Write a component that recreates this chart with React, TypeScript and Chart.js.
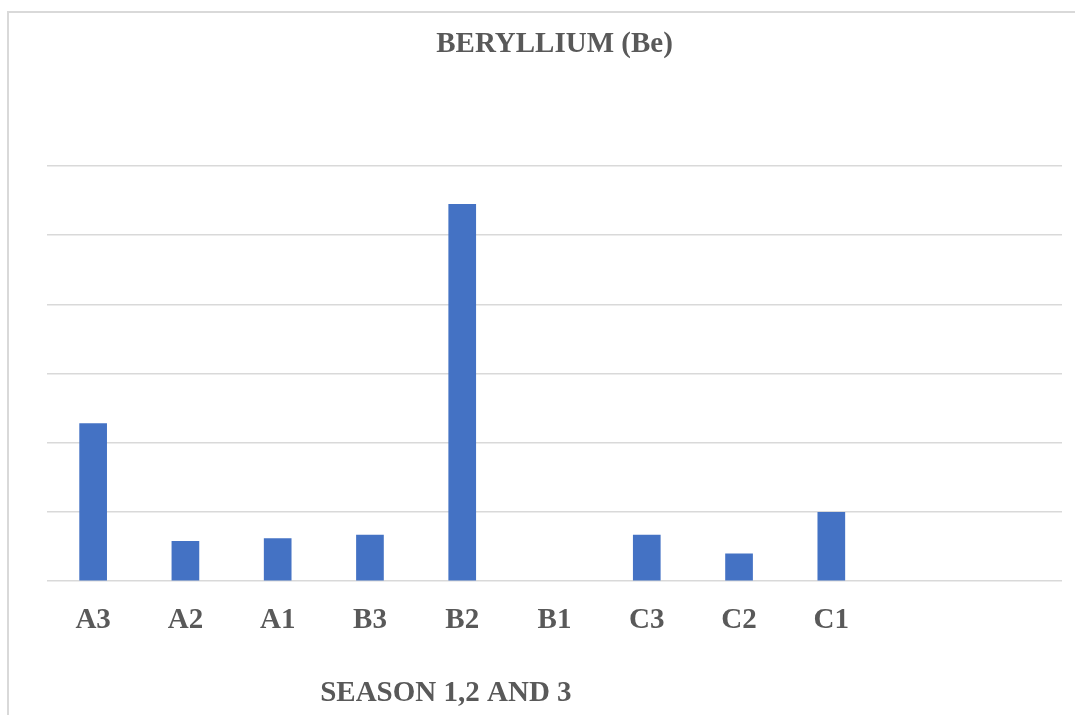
import React, { useEffect, useRef } from "react";
import { Chart, registerables } from "chart.js";

Chart.register(...registerables);

const chartTitle = "BERYLLIUM (Be)";
const axisTitle = "SEASON 1,2 AND 3";
const categories = ["A3", "A2", "A1", "B3", "B2", "B1", "C3", "C2", "C1", "", ""];
const berylliumValues: (number | null)[] = [2.28, 0.58, 0.62, 0.67, 5.45, 0, 0.67, 0.4, 1.0, null, null];
const yMin = 0;
const yMax = 6;
const yStep = 1;

const TEXT_COLOR = "#595959";
const BAR_COLOR = "#4472C4";
const GRID_COLOR = "#d9d9d9";
const FONT_FAMILY = "'Liberation Serif', 'Times New Roman', serif";
const FONT_SIZE = 29;

const axisTitlePlugin = {
  id: "axisTitlePlugin",
  afterDraw(chart: any) {
    const { ctx, chartArea } = chart;
    ctx.save();
    ctx.font = `bold ${FONT_SIZE}px ${FONT_FAMILY}`;
    ctx.fillStyle = TEXT_COLOR;
    ctx.textAlign = "center";
    ctx.textBaseline = "alphabetic";
    const x = chartArea.left + (chartArea.right - chartArea.left) * 0.393;
    const y = chartArea.bottom + 120;
    ctx.fillText(axisTitle, x, y);
    ctx.restore();
  },
};

export default function App() {
  const canvasRef = useRef<HTMLCanvasElement | null>(null);

  useEffect(() => {
    if (!canvasRef.current) return;
    const chart = new Chart(canvasRef.current, {
      type: "bar",
      data: {
        labels: categories,
        datasets: [
          {
            label: "Beryllium",
            data: berylliumValues,
            backgroundColor: BAR_COLOR,
            borderWidth: 0,
            barPercentage: 0.3,
            categoryPercentage: 1.0,
          },
        ],
      },
      options: {
        animation: false,
        responsive: true,
        maintainAspectRatio: false,
        layout: { padding: { left: 47, right: 13, top: 0, bottom: 55 } },
        plugins: {
          legend: { display: false },
          tooltip: { enabled: false },
          title: {
            display: true,
            text: chartTitle,
            color: TEXT_COLOR,
            font: { family: FONT_FAMILY, size: FONT_SIZE, weight: "bold" },
            padding: { top: 27, bottom: 104 },
          },
        },
        scales: {
          x: {
            grid: { display: false, drawTicks: false },
            border: { display: false },
            ticks: {
              color: TEXT_COLOR,
              font: { family: FONT_FAMILY, size: FONT_SIZE, weight: "bold" },
              padding: 22,
              maxRotation: 0,
              autoSkip: false,
            },
          },
          y: {
            min: yMin,
            max: yMax,
            ticks: { display: false, stepSize: yStep },
            grid: { color: GRID_COLOR, lineWidth: 1.5, drawTicks: false },
            border: { display: false },
          },
        },
      },
      plugins: [axisTitlePlugin],
    });
    return () => chart.destroy();
  }, []);

  return (
    <div style={{ position: "fixed", left: 0, top: 0, width: 1075, height: 715, background: "#fff" }}>
      <div
        style={{
          position: "absolute",
          left: 7,
          top: 11,
          width: 1068,
          height: 704,
          borderTop: `2px solid ${GRID_COLOR}`,
          borderLeft: `2px solid ${GRID_COLOR}`,
          boxSizing: "border-box",
        }}
      />
      <div style={{ position: "absolute", left: 0, top: 0, width: 1075, height: 715 }}>
        <canvas ref={canvasRef} />
      </div>
    </div>
  );
}
